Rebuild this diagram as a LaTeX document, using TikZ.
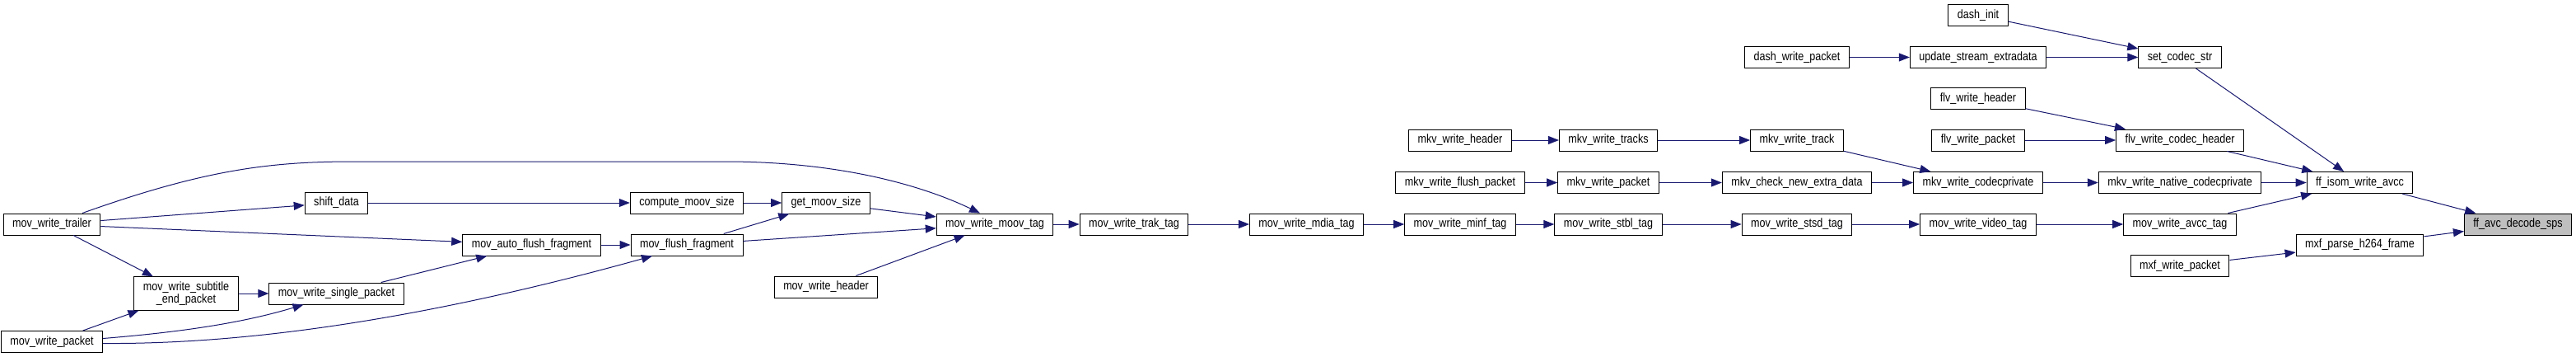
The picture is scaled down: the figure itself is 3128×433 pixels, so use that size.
\documentclass[tikz,border=0pt]{standalone}
\usepackage{fontspec}
\setmainfont{Liberation Sans}[FakeStretch=0.85]
\usepackage{tikz}
\usetikzlibrary{arrows.meta}
\definecolor{edgeblue}{HTML}{191970}
\definecolor{hlgray}{HTML}{BFBFBF}
\tikzset{
  fnbox/.style={draw=black, line width=1pt, fill=white, align=center, inner xsep=11pt, inner ysep=3pt, minimum height=26pt, font=\fontsize{14.8}{14.5}\selectfont},
  fnhl/.style={fnbox, fill=hlgray},
  calledge/.style={-{Triangle[length=13pt,width=10pt]}, draw=edgeblue, line width=1pt}
}
\begin{document}
\begin{tikzpicture}[x=1pt,y=-1pt]
  \fill[white] (0,0) rectangle (3128,433);
  \useasboundingbox (0,0) rectangle (3128,433);

  \node[fnbox] (trailer) at (63,272) {mov\_write\_trailer};
  \node[fnbox] (packet) at (63,414.5) {mov\_write\_packet};
  \node[fnbox, inner ysep=6pt] (subtitle) at (226,356) {mov\_write\_subtitle\\\_end\_packet};
  \node[fnbox] (single) at (408.5,356) {mov\_write\_single\_packet};
  \node[fnbox] (shift) at (408.5,246) {shift\_data};
  \node[fnbox] (autoflush) at (645.5,297) {mov\_auto\_flush\_fragment};
  \node[fnbox] (compute) at (834,246) {compute\_moov\_size};
  \node[fnbox] (flush) at (834,297) {mov\_flush\_fragment};
  \node[fnbox] (getsize) at (1003,246) {get\_moov\_size};
  \node[fnbox] (movheader) at (1003,348) {mov\_write\_header};
  \node[fnbox] (moov) at (1208,272) {mov\_write\_moov\_tag};
  \node[fnbox] (trak) at (1377,272) {mov\_write\_trak\_tag};
  \node[fnbox] (mdia) at (1586.5,272) {mov\_write\_mdia\_tag};
  \node[fnbox] (minf) at (1773,272) {mov\_write\_minf\_tag};
  \node[fnbox] (stbl) at (1953,272) {mov\_write\_stbl\_tag};
  \node[fnbox] (stsd) at (2182,272) {mov\_write\_stsd\_tag};
  \node[fnbox] (video) at (2402,272) {mov\_write\_video\_tag};
  \node[fnbox] (avcctag) at (2647,272) {mov\_write\_avcc\_tag};
  \node[fnbox] (mkvheader) at (1773,170) {mkv\_write\_header};
  \node[fnbox] (tracks) at (1953,170) {mkv\_write\_tracks};
  \node[fnbox] (track) at (2182,170) {mkv\_write\_track};
  \node[fnbox] (mkvflush) at (1773,221.5) {mkv\_write\_flush\_packet};
  \node[fnbox] (mkvpacket) at (1953,221.5) {mkv\_write\_packet};
  \node[fnbox] (checkextra) at (2182,221.5) {mkv\_check\_new\_extra\_data};
  \node[fnbox] (codecpriv) at (2402,221.5) {mkv\_write\_codecprivate};
  \node[fnbox] (native) at (2647,221.5) {mkv\_write\_native\_codecprivate};
  \node[fnbox] (dashpacket) at (2182,69.5) {dash\_write\_packet};
  \node[fnbox] (dashinit) at (2402,18.5) {dash\_init};
  \node[fnbox] (update) at (2402,69.5) {update\_stream\_extradata};
  \node[fnbox] (setcodec) at (2647,69.5) {set\_codec\_str};
  \node[fnbox] (flvheader) at (2402,120) {flv\_write\_header};
  \node[fnbox] (flvpacket) at (2402,170) {flv\_write\_packet};
  \node[fnbox] (flvcodec) at (2647,170) {flv\_write\_codec\_header};
  \node[fnbox] (mxfpacket) at (2647,322.5) {mxf\_write\_packet};
  \node[fnbox] (isom) at (2865.5,221.5) {ff\_isom\_write\_avcc};
  \node[fnbox] (mxfparse) at (2865.5,297) {mxf\_parse\_h264\_frame};
  \node[fnhl] (sps) at (3057.5,272) {ff\_avc\_decode\_sps};

  \draw[calledge] ([xshift=37pt]trailer.north) .. controls (250,205) and (330,196) .. (430,196)
    -- (880,196) .. controls (1020,196) and (1120,225) .. ([xshift=-18pt]moov.north);
  \draw[calledge] (trailer) -- (shift);
  \draw[calledge] (trailer) -- (autoflush);
  \draw[calledge] (trailer) -- (subtitle);
  \draw[calledge] (packet) -- (subtitle);
  \draw[calledge] ([yshift=4pt]packet.east) .. controls (230,402) and (300,390) .. ([xshift=-40pt]single.south);
  \draw[calledge] ([yshift=-2pt]packet.east) .. controls (330,418) and (560,375) .. ([xshift=-42pt]flush.south);
  \draw[calledge] (subtitle) -- (single);
  \draw[calledge] (single) -- (autoflush);
  \draw[calledge] (shift) -- (compute);
  \draw[calledge] (compute) -- (getsize);
  \draw[calledge] (autoflush) -- (flush);
  \draw[calledge] (flush) -- (getsize);
  \draw[calledge] (flush) -- (moov);
  \draw[calledge] (getsize) -- (moov);
  \draw[calledge] (movheader) -- (moov);
  \draw[calledge] (moov) -- (trak);
  \draw[calledge] (trak) -- (mdia);
  \draw[calledge] (mdia) -- (minf);
  \draw[calledge] (minf) -- (stbl);
  \draw[calledge] (stbl) -- (stsd);
  \draw[calledge] (stsd) -- (video);
  \draw[calledge] (video) -- (avcctag);
  \draw[calledge] (avcctag) -- (isom);
  \draw[calledge] (mkvheader) -- (tracks);
  \draw[calledge] (tracks) -- (track);
  \draw[calledge] (track) -- (codecpriv);
  \draw[calledge] (mkvflush) -- (mkvpacket);
  \draw[calledge] (mkvpacket) -- (checkextra);
  \draw[calledge] (checkextra) -- (codecpriv);
  \draw[calledge] (codecpriv) -- (native);
  \draw[calledge] (native) -- (isom);
  \draw[calledge] (dashpacket) -- (update);
  \draw[calledge] (update) -- (setcodec);
  \draw[calledge] (dashinit) -- (setcodec);
  \draw[calledge] (setcodec) -- (isom);
  \draw[calledge] (flvheader) -- (flvcodec);
  \draw[calledge] (flvpacket) -- (flvcodec);
  \draw[calledge] (flvcodec) -- (isom);
  \draw[calledge] (isom) -- (sps);
  \draw[calledge] (mxfpacket) -- (mxfparse);
  \draw[calledge] (mxfparse) -- (sps);
\end{tikzpicture}
\end{document}
